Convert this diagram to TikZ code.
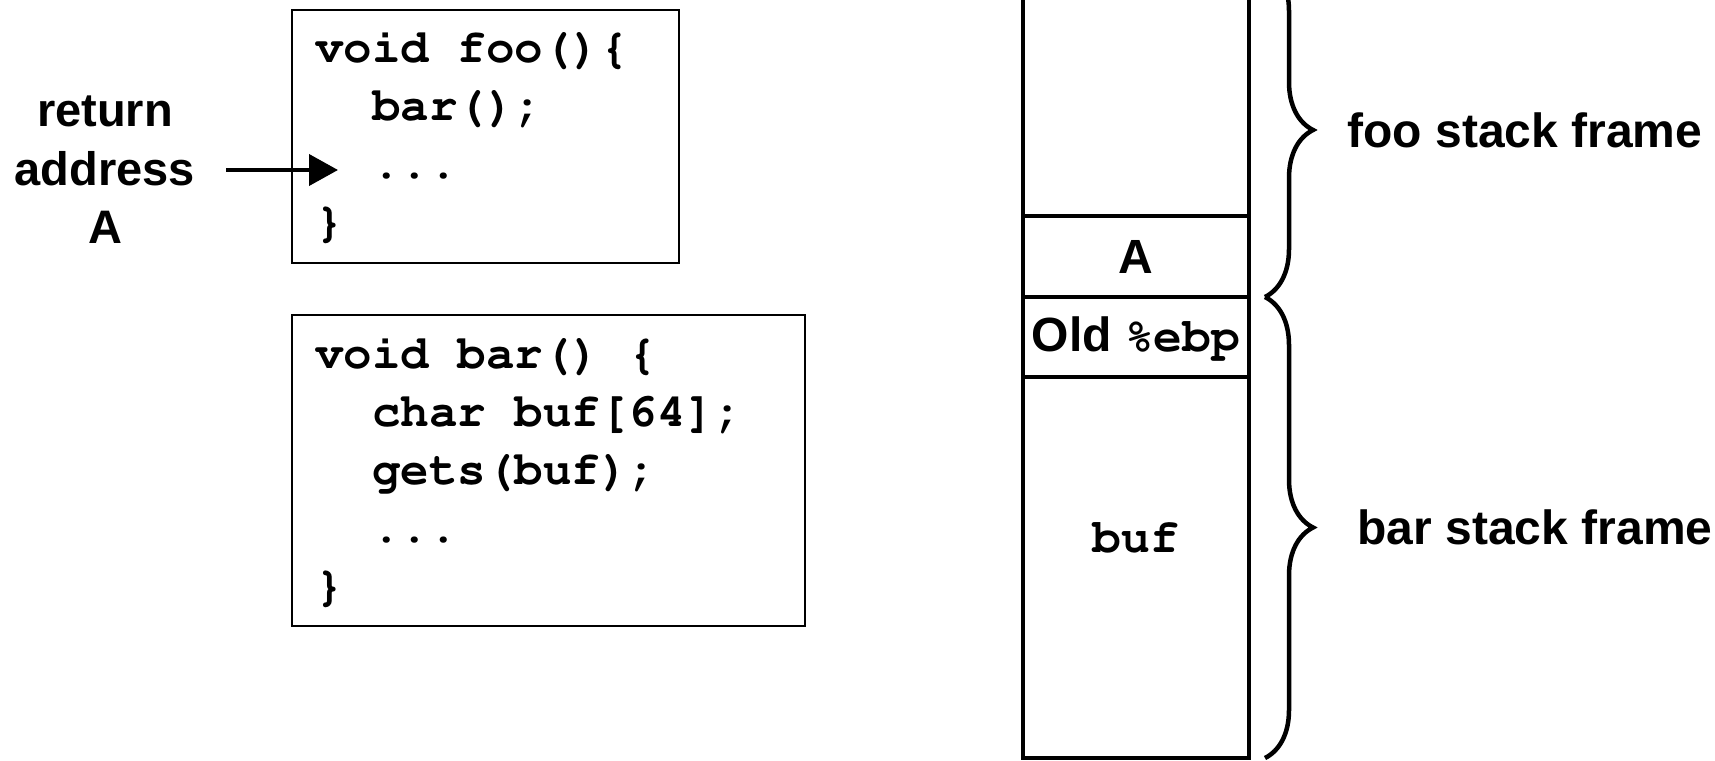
\documentclass[tikz,border=0pt]{standalone}
\usepackage[T1]{fontenc}
\usepackage{fontspec}
\setmainfont{Liberation Sans}
\usetikzlibrary{positioning}
\usetikzlibrary{arrows.meta}
\usetikzlibrary{decorations.pathreplacing}

\newcommand{\courier}{\fontencoding{T1}\fontfamily{pcr}\selectfont\spaceskip=0.6em\relax}
\newcommand{\ind}{\hspace*{1.2em}}

\begin{document}
\begin{tikzpicture}[x = 1pt, y = -1pt, node distance = 0pt,
		sanstext/.style = {font = \fontsize{47}{58.5}\selectfont\bfseries},
		codebox/.style = {draw, line width = 2.2pt, align = flush left, inner sep = 0pt, anchor = north west, font = \fontsize{47.5}{58}\courier\bfseries},
		stackcell/.style = {draw, line width = 4pt, minimum width = 226pt, inner sep = 0pt, outer sep = 0pt, font = \fontsize{48}{58}\selectfont\bfseries},
		retarrow/.style = {line width = 4pt, -{Triangle[length = 29pt, width = 31pt]}},
		framebrace/.style = {decorate, decoration = {brace, amplitude = 48pt}, line width = 4.5pt},
		framelabel/.style = {midway, anchor = west, xshift = 77pt, font = \fontsize{48}{58}\selectfont\bfseries}]
			\clip (0,0) rectangle (1715,760);
			\node[sanstext, align = center, inner xsep = 31pt] (retaddr) at (105,170) {return\\address\\A};
			\node[codebox, minimum width = 387pt, minimum height = 253pt, text width = 341pt] (foocode) at (291,9) {void foo()\{\\\ind bar();\\\ind ...\\\}};
			\coordinate (retpt) at (338,170);
			\path[retarrow] (retaddr) edge (retpt);
			\node[codebox, minimum width = 513pt, minimum height = 311pt, text width = 467pt, below right = 50pt and 0pt of foocode.south west] (barcode) {void bar() \{\\\ind char buf[64];\\\ind gets(buf);\\\ind ...\\\}};
			\node[stackcell, minimum height = 256pt, anchor = south west] (fooarea) at (1023,216) {};
			\node[stackcell, minimum height = 81pt, below = of fooarea] (retcell) {A};
			\node[stackcell, minimum height = 80pt, below = of retcell] (ebpcell) {Old {\courier\%ebp}};
			\node[stackcell, minimum height = 381pt, below = of ebpcell] (bufcell) {};
			\node[font = \fontsize{48}{58}\courier\bfseries, yshift = 29.5pt] (buftext) at (bufcell.center) {buf};
			\coordinate (fooframetop) at (1265,-37);
			\coordinate (framesplit) at (1265,297);
			\coordinate (barframebot) at (1265,758);
			\draw[framebrace] (fooframetop) -- node[framelabel] {foo stack frame} (framesplit);
			\draw[framebrace] (framesplit) -- node[framelabel, xshift = 10pt] {bar stack frame} (barframebot);
		\end{tikzpicture}
\end{document}
